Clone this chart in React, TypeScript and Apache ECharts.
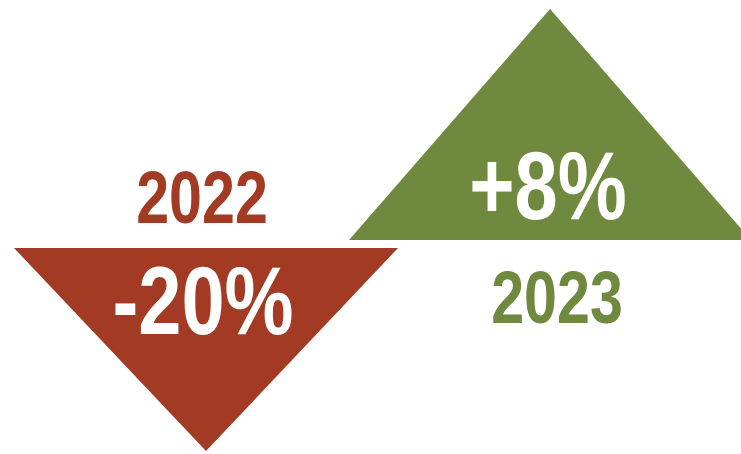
import React, { useEffect, useRef } from "react";
import * as echarts from "echarts";

const years = ["2022", "2023"];
const changes = [-20, 8];
const colors = ["#A33A23", "#6F8A3F"];

const FONT = "'Liberation Sans Narrow', 'Arial Narrow', 'Liberation Sans', Arial, sans-serif";

export default function App() {
  const ref = useRef<HTMLDivElement>(null);
  useEffect(() => {
    if (!ref.current) return;
    const chart = echarts.init(ref.current, null, { renderer: "svg" });
    const data = years.map((y, i) => [i, changes[i]]);
    chart.setOption({
      animation: false,
      grid: { left: 34, right: 19, top: 0, bottom: 0 },
      xAxis: { type: "category", data: years, show: false },
      yAxis: { type: "value", min: -210, max: 244, show: false },
      series: [
        {
          type: "custom",
          data,
          renderItem: (params: any, api: any) => {
            const idx = api.value(0);
            const val = api.value(1);
            const p = api.coord([idx, 0]);
            const cx = p[0];
            const down = val < 0;
            const color = colors[params.dataIndex];
            const w = down ? 384 : 402;
            const h = down ? 203 : 231;
            const base = down ? p[1] + 4 : p[1] - 4;
            const apex = down ? base + h : base - h;
            const pct = (val > 0 ? "+" : "") + val + "%";
            const yearY = down ? base - 51 : base + 57;
            const pctY = down ? base + 52 : base - 55;
            return {
              type: "group",
              children: [
                {
                  type: "polygon",
                  shape: {
                    points: [
                      [cx - w / 2, base],
                      [cx + w / 2, base],
                      [cx, apex],
                    ],
                  },
                  style: { fill: color },
                },
                {
                  type: "text",
                  x: down ? cx - 4 : cx + 7,
                  y: yearY,
                  scaleX: 0.8,
                  style: {
                    text: years[params.dataIndex],
                    fill: color,
                    font: `bold 74px ${FONT}`,
                    align: "center",
                    verticalAlign: "middle",
                  },
                },
                {
                  type: "text",
                  x: down ? cx - 3 : cx - 2,
                  y: pctY,
                  scaleX: 0.8,
                  style: {
                    text: pct,
                    fill: "#ffffff",
                    font: `bold 97px ${FONT}`,
                    align: "center",
                    verticalAlign: "middle",
                  },
                },
              ],
            };
          },
        },
      ],
    });
    return () => chart.dispose();
  }, []);
  return (
    <div
      ref={ref}
      style={{ position: "fixed", left: 0, top: 0, width: 741, height: 454, background: "#ffffff" }}
    />
  );
}
